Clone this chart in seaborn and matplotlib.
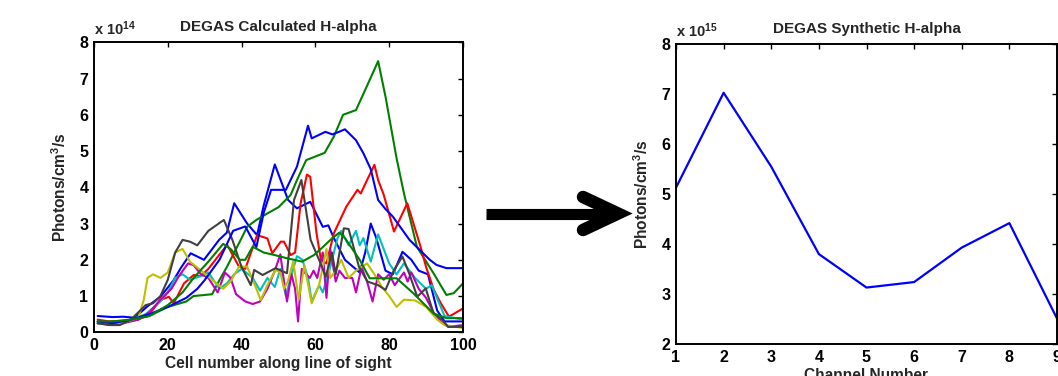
import matplotlib
matplotlib.use("Agg")
import matplotlib.pyplot as plt
from matplotlib.lines import Line2D
import seaborn as sns
import pandas as pd

# ---------------- data (left panel, units of 1e14) ----------------
blue1_x = [1, 5, 8, 11, 14.4, 18, 21.6, 23.5, 26.2, 29.8, 33.9, 36, 38, 41.5, 44.2, 46, 49, 52.6, 55, 58.6, 62, 63.5, 65, 68, 72, 73.5, 75, 76.5, 79, 81, 83.6, 86, 88, 90.5, 93, 95, 100]
blue1_y = [0.45, 0.42, 0.43, 0.4, 0.71, 0.98, 1.44, 1.77, 2.18, 2.0, 2.55, 2.75, 3.56, 3.0, 2.68, 3.5, 4.63, 3.65, 3.42, 3.6, 2.91, 2.95, 2.6, 2.0, 1.65, 2.2, 3.0, 2.6, 1.7, 1.6, 2.22, 2.0, 1.7, 1.6, 0.6, 0.3, 0.3]

green1_x = [1, 5, 10, 15, 20, 25, 27, 32, 34, 36, 38, 40, 41.5, 44, 47, 50, 53.3, 55, 57.5, 60, 62.5, 65, 67.5, 71, 74, 77, 79, 82, 84, 87.5, 92, 95.5, 97.5, 100]
green1_y = [0.25, 0.3, 0.33, 0.45, 0.7, 0.85, 1.0, 1.05, 1.44, 1.8, 2.2, 2.6, 2.91, 3.1, 3.28, 3.45, 3.79, 4.2, 4.75, 4.85, 4.95, 5.4, 6.0, 6.13, 6.8, 7.48, 6.5, 4.8, 3.83, 2.36, 1.63, 1.03, 1.08, 1.35]

red_x = [1, 4, 8, 12, 15, 18, 20.3, 21.6, 24.4, 27, 29, 31, 33.9, 36.1, 39.3, 41, 44.2, 47, 48.3, 50.6, 51.5, 53.3, 54.5, 56, 57.7, 58.6, 60.3, 61.5, 63, 65, 68.4, 71.4, 72.3, 74, 76, 77, 78.5, 81.3, 84.9, 88.5, 90, 92.1, 94, 96.2, 100]
red_y = [0.35, 0.3, 0.28, 0.35, 0.5, 0.89, 0.98, 0.8, 1.35, 1.58, 1.55, 1.75, 2.13, 2.41, 1.81, 1.75, 2.68, 2.59, 2.18, 2.5, 2.5, 2.13, 2.2, 3.56, 4.35, 4.29, 2.73, 2.0, 1.9, 2.73, 3.47, 3.93, 3.83, 4.2, 4.62, 4.2, 3.8, 2.78, 3.56, 2.36, 1.8, 1.17, 0.8, 0.43, 0.66]

cyan_x = [1, 5, 10, 14, 18, 20, 22, 24, 26, 29, 31, 34, 36, 38, 40, 43, 45, 47, 49, 50.5, 52, 53, 55, 56.5, 58, 59, 61, 62, 63.5, 66, 67, 69, 71, 72, 73, 75, 77, 78.5, 80, 82, 84, 87, 90, 91.5, 95, 100]
cyan_y = [0.3, 0.25, 0.35, 0.5, 0.85, 1.1, 1.5, 1.6, 1.45, 1.55, 1.65, 1.2, 1.35, 1.6, 1.75, 1.5, 1.15, 1.5, 1.25, 1.75, 1.0, 1.4, 2.1, 2.0, 1.5, 0.85, 1.3, 1.1, 1.6, 2.6, 2.8, 2.4, 2.8, 2.4, 2.6, 1.95, 2.7, 2.3, 1.9, 1.6, 1.9, 1.5, 1.2, 1.3, 0.45, 0.35]

magenta_x = [1, 5, 8, 12, 15, 18, 21, 23, 25.5, 27, 29, 31, 33.5, 35.5, 37, 38.5, 41, 43, 45, 47, 49, 50.5, 51.5, 52.3, 53.5, 54.5, 55.3, 56.3, 57.5, 58.5, 59.5, 60.5, 62, 63, 64, 65.5, 66.5, 68, 70, 71, 72.5, 74, 75.5, 77, 78.5, 80, 81.5, 84, 85, 86, 88, 90, 92, 94, 96, 100]
magenta_y = [0.25, 0.2, 0.25, 0.35, 0.55, 0.9, 1.2, 1.55, 1.9, 1.85, 1.6, 1.5, 1.1, 1.65, 1.5, 1.05, 0.85, 0.78, 0.85, 1.2, 1.7, 2.15, 1.4, 0.85, 1.6, 1.2, 0.3, 1.75, 1.6, 1.5, 1.7, 1.5, 2.2, 0.95, 2.3, 1.4, 1.7, 1.5, 1.5, 1.1, 1.8, 1.4, 0.85, 1.6, 1.45, 1.6, 1.3, 1.65, 1.4, 1.65, 1.2, 0.95, 0.55, 0.3, 0.15, 0.2]

yellow_x = [1, 3, 6, 9, 12, 13.5, 14.5, 16, 18, 20, 22, 24, 26, 29, 32, 35, 37, 39.3, 41.5, 44, 45.2, 47, 49.2, 50.5, 51.5, 52.5, 54, 55.5, 57, 59, 61, 63, 64, 65.5, 67, 69, 71, 74, 76, 78, 80, 82, 84, 87, 90, 93, 95, 100]
yellow_y = [0.3, 0.25, 0.2, 0.3, 0.4, 0.9, 1.5, 1.6, 1.5, 1.65, 2.2, 2.3, 1.95, 1.7, 1.45, 1.2, 1.4, 1.81, 1.81, 1.2, 0.89, 1.3, 1.72, 1.65, 1.2, 1.4, 1.95, 0.9, 1.85, 0.8, 1.3, 2.3, 1.5, 1.7, 2.0, 1.5, 1.7, 1.9, 1.6, 1.25, 1.0, 0.7, 0.9, 0.88, 0.7, 0.35, 0.2, 0.12]

gray_x = [1, 4, 7, 10, 12, 14, 16, 18, 20, 22, 24, 26, 28, 31, 35.2, 37.5, 40, 42.5, 43.4, 45.7, 49.2, 52.3, 54.2, 56.2, 58.7, 61.4, 62.8, 64.5, 65.5, 67.7, 69, 71.8, 74.1, 77, 79, 81.3, 83.6, 85.5, 87.6, 89.9, 92, 94.4, 96, 100]
gray_y = [0.25, 0.2, 0.2, 0.35, 0.55, 0.75, 0.8, 1.0, 1.45, 2.2, 2.55, 2.5, 2.4, 2.8, 3.1, 2.55, 1.8, 1.3, 1.72, 1.58, 1.77, 1.63, 3.65, 4.2, 2.55, 1.9, 1.53, 2.2, 1.6, 2.87, 2.85, 1.81, 1.4, 1.3, 1.17, 1.72, 2.09, 1.6, 0.98, 1.21, 0.53, 0.34, 0.15, 0.15]

blue2_x = [1, 5, 10, 15, 20, 25, 28, 30, 34, 37.7, 41, 44, 46, 48, 52, 55, 58, 59, 62.7, 64.6, 66.4, 68, 71, 73, 75, 77, 79, 81, 85.5, 89, 91, 92.8, 95.5, 100]
blue2_y = [0.3, 0.25, 0.35, 0.5, 0.7, 0.95, 1.2, 1.44, 2.0, 2.8, 2.92, 2.35, 3.3, 3.93, 3.93, 4.57, 5.7, 5.35, 5.53, 5.46, 5.53, 5.6, 5.3, 4.94, 4.5, 3.65, 3.4, 3.19, 2.55, 2.2, 2.0, 1.86, 1.77, 1.77]

green2_x = [1, 5, 10, 15, 20, 24, 27, 31, 35, 37, 39.5, 41, 43, 46, 49, 52, 56.4, 59.6, 62, 64.5, 66.5, 68, 72, 74.7, 82, 86.5, 92, 95.5, 100]
green2_y = [0.3, 0.3, 0.35, 0.45, 0.75, 1.1, 1.5, 1.95, 2.44, 2.3, 2.0, 2.0, 2.36, 2.2, 2.13, 2.05, 1.95, 2.13, 2.35, 2.59, 2.75, 2.6, 2.0, 1.49, 1.49, 1.08, 0.52, 0.39, 0.39]

left_series = [
    ("b1", blue1_x, blue1_y, (0, 0, 1)),
    ("g1", green1_x, green1_y, (0, 0.5, 0)),
    ("r", red_x, red_y, (1, 0, 0)),
    ("c", cyan_x, cyan_y, (0, 0.75, 0.75)),
    ("m", magenta_x, magenta_y, (0.75, 0, 0.75)),
    ("y", yellow_x, yellow_y, (0.75, 0.75, 0)),
    ("k", gray_x, gray_y, (0.25, 0.25, 0.25)),
    ("b2", blue2_x, blue2_y, (0, 0, 1)),
    ("g2", green2_x, green2_y, (0, 0.5, 0)),
]

# ---------------- data (right panel, units of 1e15) ----------------
channels = [1, 2, 3, 4, 5, 6, 7, 8, 9]
synthetic = [5.13, 7.03, 5.55, 3.80, 3.13, 3.24, 3.93, 4.42, 2.51]

left_xticks = [0, 20, 40, 60, 80, 100]
left_yticks = [0, 1, 2, 3, 4, 5, 6, 7, 8]
right_xticks = channels
right_yticks = [2, 3, 4, 5, 6, 7, 8]

# ---------------- style ----------------
sns.set_style("white")
plt.rcParams["font.family"] = ["Liberation Sans", "DejaVu Sans"]
plt.rcParams["font.weight"] = "bold"
plt.rcParams["axes.labelweight"] = "bold"
plt.rcParams["axes.titleweight"] = "bold"
plt.rcParams["mathtext.fontset"] = "custom"
plt.rcParams["mathtext.rm"] = "Liberation Sans:bold"
plt.rcParams["mathtext.bf"] = "Liberation Sans:bold"
plt.rcParams["mathtext.it"] = "Liberation Sans:bold"
plt.rcParams["mathtext.default"] = "bf"

W, H = 1058, 376
fig = plt.figure(figsize=(W / 100, H / 100), dpi=100)
fig.patch.set_facecolor("white")

def px_axes(l, r, t, b):
    return fig.add_axes([l / W, 1 - b / H, (r - l) / W, (b - t) / H])

ax1 = px_axes(94, 463, 42.3, 332.3)
ax2 = px_axes(676, 1057, 44.3, 344)

for name, xs, ys, col in left_series:
    sns.lineplot(x=xs, y=ys, ax=ax1, color=col, lw=1.5, estimator=None, sort=False)

sns.lineplot(x=channels, y=synthetic, ax=ax2, color=(0, 0, 1), lw=1.6, estimator=None, sort=False)

def style(ax, xt, yt, xlim, ylim):
    ax.set_xlim(*xlim)
    ax.set_ylim(*ylim)
    ax.set_xticks(xt)
    ax.set_yticks(yt)
    ax.set_xticklabels([str(v) for v in xt])
    ax.set_yticklabels([str(v) for v in yt])
    ax.tick_params(direction="in", top=True, right=True, length=3.5, width=1.0,
                   labelsize=11.5, pad=4, colors="black")
    for s in ax.spines.values():
        s.set_visible(True)
        s.set_color("black")
        s.set_linewidth(1.4)
    for lab in ax.get_xticklabels() + ax.get_yticklabels():
        lab.set_fontweight("bold")

style(ax1, left_xticks, left_yticks, (0, 100), (0, 8))
style(ax2, right_xticks, right_yticks, (1, 9), (2, 8))

ax1.set_title("DEGAS Calculated H-alpha", fontsize=11, fontweight="bold", pad=8)
ax2.set_title("DEGAS Synthetic H-alpha", fontsize=11, fontweight="bold", pad=8)
ax1.set_xlabel("Cell number along line of sight", fontsize=11.2, fontweight="bold")
ax2.set_xlabel("Channel Number", fontsize=11.2, fontweight="bold")
ax1.set_ylabel(r"Photons/cm$^{3}$/s", fontsize=11.2, fontweight="bold")
ax2.set_ylabel(r"Photons/cm$^{3}$/s", fontsize=11.2, fontweight="bold")
ax1.xaxis.set_label_coords(0.5, -0.082)
ax2.xaxis.set_label_coords(0.5, -0.08)
ax1.yaxis.set_label_coords(-0.068, 0.5)
ax2.yaxis.set_label_coords(-0.066, 0.5)

ax1.text(0.0, 1.014, r"x 10$^{14}$", transform=ax1.transAxes, ha="left", va="bottom",
         fontsize=10.5, fontweight="bold")
ax2.text(0.0, 1.014, r"x 10$^{15}$", transform=ax2.transAxes, ha="left", va="bottom",
         fontsize=10.5, fontweight="bold")

# ---------------- arrow between panels ----------------
def fx(x):
    return x / W

def fy(y):
    return 1 - y / H

shaft = Line2D([fx(486), fx(612)], [fy(213.5), fy(213.5)], transform=fig.transFigure,
               color="black", lw=8, solid_capstyle="butt")
head = Line2D([fx(583), fx(618), fx(583)], [fy(197), fy(213.5), fy(230)],
              transform=fig.transFigure, color="black", lw=9,
              solid_capstyle="round", solid_joinstyle="miter")
fig.add_artist(shaft)
fig.add_artist(head)

fig.savefig("out.png", dpi=100, facecolor="white")
